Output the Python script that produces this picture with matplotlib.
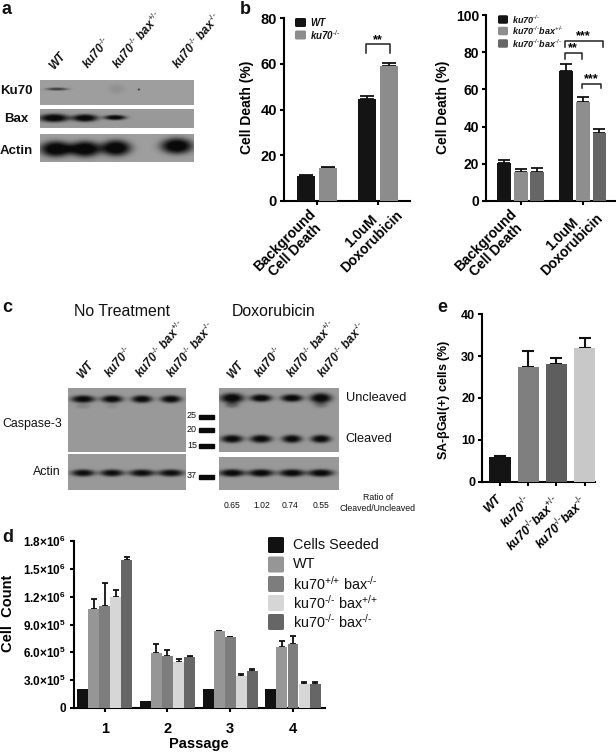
import numpy as np
import matplotlib
matplotlib.use("Agg")
import matplotlib.pyplot as plt
from matplotlib.patches import Rectangle, FancyBboxPatch
from matplotlib.transforms import ScaledTranslation

plt.rcParams.update({
    "font.family": ["Liberation Sans", "DejaVu Sans"],
    "mathtext.fontset": "custom",
    "mathtext.rm": "Liberation Sans",
    "mathtext.it": "Liberation Sans:italic",
    "mathtext.bf": "Liberation Sans:bold",
    "mathtext.default": "regular",
    "axes.linewidth": 1.5,
})

W, H = 616, 755
KO = r"$^{\text{-/-}}$"
HET = r"$^{\text{+/-}}$"
WTS = r"$^{\text{+/+}}$"

# ---- data ----
b1_groups = ["Background\nCell Death", "1.0uM\nDoxorubicin"]
b1_names = ["WT", "ku70" + KO]
b1_vals = [[11.0, 44.5], [14.5, 59.0]]
b1_errs = [[0.2, 1.3], [0.3, 1.5]]

b2_names = ["ku70" + KO, "ku70" + KO + "bax" + HET, "ku70" + KO + "bax" + KO]
b2_vals = [[20.5, 70.0], [15.5, 53.0], [15.8, 36.5]]
b2_errs = [[1.3, 3.5], [1.5, 3.0], [2.0, 2.3]]

e_names = ["WT", "ku70" + KO, "ku70" + KO + "bax" + HET, "ku70" + KO + "bax" + KO]
e_vals = [6.0, 27.3, 28.0, 31.8]
e_errs = [0.2, 3.9, 1.6, 2.5]

d_passages = ["1", "2", "3", "4"]
d_names = ["Cells Seeded", "WT", "ku70" + WTS + " bax" + KO,
           "ku70" + KO + " bax" + WTS, "ku70" + KO + " bax" + KO]
d_seeded = [2.1e5, 0.75e5, 2.1e5, 2.1e5]
d_wt = [1.07e6, 5.9e5, 8.25e5, 6.6e5]
d_bax = [1.10e6, 5.6e5, 7.6e5, 6.85e5]
d_ku = [1.20e6, 5.0e5, 3.5e5, 2.6e5]
d_dko = [1.59e6, 5.55e5, 4.0e5, 2.55e5]
d_seeded_err = [0, 0, 0, 0]
d_wt_err = [1.0e5, 1.0e5, 0.1e5, 0.65e5]
d_bax_err = [2.5e5, 0.65e5, 0.1e5, 0.95e5]
d_ku_err = [0.7e5, 0.3e5, 0.2e5, 0.25e5]
d_dko_err = [0.35e5, 0.1e5, 0.15e5, 0.2e5]
d_yticks = [0, 3e5, 6e5, 9e5, 1.2e6, 1.5e6, 1.8e6]
d_ylabels = ["0", r"3.0$\times$10$^{5}$", r"6.0$\times$10$^{5}$", r"9.0$\times$10$^{5}$",
             r"1.2$\times$10$^{6}$", r"1.5$\times$10$^{6}$", r"1.8$\times$10$^{6}$"]

blot_lanes = ["WT", "ku70" + KO, "ku70" + KO + " bax" + HET, "ku70" + KO + " bax" + KO]
ratios = ["0.65", "1.02", "0.74", "0.55"]
markers = ["25", "20", "15", "37"]

fig = plt.figure(figsize=(W / 100, H / 100), dpi=100, facecolor="white")
ov = fig.add_axes([0, 0, 1, 1], zorder=5)
ov.set_xlim(0, W); ov.set_ylim(H, 0); ov.axis("off"); ov.patch.set_alpha(0)


def pax(x0, x1, ytop, y0, tick=3, pad=2):
    a = fig.add_axes([x0 / W, 1 - y0 / H, (x1 - x0) / W, (y0 - ytop) / H])
    a.spines[["top", "right"]].set_visible(False)
    a.patch.set_alpha(0)
    a.tick_params(width=1.5, length=tick, pad=pad)
    return a


def blot(x0, x1, y0, y1, bands, bg=0.62):
    """bands: (x, y, half-width, half-height, strength)"""
    s = 3
    xs = np.linspace(x0, x1, int((x1 - x0) * s))
    ys = np.linspace(y0, y1, int((y1 - y0) * s))
    X, Y = np.meshgrid(xs, ys)
    img = np.full(X.shape, bg)
    for bx, by, hw, hh, st in bands:
        r = ((X - bx) / hw) ** 2 + ((Y - by) / hh) ** 2
        img -= st * np.exp(-r ** 1.5)
    ov.imshow(np.clip(img, 0.04, 1), cmap="gray", vmin=0, vmax=1, aspect="auto",
              extent=(x0, x1, y1, y0), interpolation="bilinear", zorder=1)
    ov.set_xlim(0, W); ov.set_ylim(H, 0)


def lab(x, y, s, size=9, rot=0, weight="normal", style="normal", ha="center", va="center"):
    ov.text(x, y, s, fontsize=size, rotation=rot, fontweight=weight, fontstyle=style,
            ha=ha, va=va, rotation_mode="anchor", color="#111111", zorder=6)


def ebars(a, x, v, e, lw=1.3, cap=3):
    a.errorbar(x, v, yerr=[np.zeros(len(e)), e], fmt="none", ecolor="#111111",
               elinewidth=lw, capsize=cap, capthick=lw, zorder=2)


def bracket(a, x0, x1, ytop, yleg, txt, ytxt):
    a.plot([x0, x0, x1, x1], [yleg, ytop, ytop, yleg], color="#222222", lw=1.1, clip_on=False)
    a.text((x0 + x1) / 2, ytxt, txt, ha="center", va="center", fontsize=9, fontweight="bold")


def mleg(names, cols, x, ys, bw, bh, tx, size, style="normal", weight="normal"):
    for n, c, y in zip(names, cols, ys):
        ov.add_patch(FancyBboxPatch((x + 1.5, y - bh / 2 + 1.5), bw - 3, bh - 3,
                                    boxstyle="round,pad=1.5", fc=c, ec="none", zorder=5))
        ov.text(tx, y, n, fontsize=size, fontstyle=style, fontweight=weight,
                ha="left", va="center", color="#111111", zorder=6)


def shift_xlabels(a, shifts):
    for t, (dx, dy) in zip(a.get_xticklabels(), shifts):
        off = ScaledTranslation(dx / 100, -dy / 100, fig.dpi_scale_trans)
        t.set_transform(t.get_transform() + off)


# ---- panel letters ----
for s, x, y in [("a", 2, 9), ("b", 240, 9), ("c", 2, 307), ("e", 437, 307), ("d", 2, 537)]:
    lab(x, y, s, size=13, weight="bold", ha="left")

# ---- panel a ----
blot(40, 194, 80, 105, [(57, 89, 11, 1.5, 0.38), (117, 89, 8, 5, 0.05), (139, 89.5, 1, 1, 0.5)], bg=0.62)
blot(40, 194, 109, 128, [(54, 118, 15, 4.2, 0.62), (85, 118, 13, 3.8, 0.62), (115, 117.5, 11, 2.6, 0.6)], bg=0.60)
blot(40, 194, 134, 162, [(56, 149, 16, 8, 0.66), (85, 149, 16, 8, 0.66), (116, 148, 15, 8, 0.66), (177, 146, 16, 8, 0.66)], bg=0.62)
for s, x in zip(blot_lanes, [56, 91, 121, 181]):
    lab(x, 72, s, size=8.4, rot=50, weight="bold", style="italic", ha="left", va="bottom")
lab(33, 91, "Ku70", size=9.5, weight="bold", ha="right")
lab(28, 119, "Bax", size=9.5, weight="bold", ha="right")
lab(33, 151, "Actin", size=9.5, weight="bold", ha="right")

# ---- panel b left ----
a = pax(284, 410, 18, 201)
a.set_xlim(-0.54, 1.52); a.set_ylim(0, 80)
colors = ["#141414", "#8c8c8c"]
gx = np.arange(2)
for v, e, c, o in zip(b1_vals, b1_errs, colors, [-0.18, 0.18]):
    a.bar(gx + o, v, width=0.29, color=c, zorder=3)
    ebars(a, gx + o, v, e, cap=5)
a.set_yticks([0, 20, 40, 60, 80])
a.set_yticklabels(["0", "20", "40", "60", "80"], fontweight="bold", fontsize=10.5)
a.set_xticks(gx)
a.set_xticklabels(b1_groups, rotation=45, ha="right", va="top", rotation_mode="anchor",
                  fontweight="bold", fontsize=10, multialignment="center", linespacing=1.0)
shift_xlabels(a, [(-8, -1), (7, -10)])
a.set_ylabel("Cell Death (%)", fontweight="bold", fontsize=10)
a.yaxis.set_label_coords(254, 107, transform=ov.transData)
bracket(a, 1 - 0.2, 1 + 0.2, 68.6, 64.7, "**", 70.5)
mleg(b1_names, colors, 295, [22.5, 35], 11, 9, 310, 7, "italic", "bold")

# ---- panel b right ----
a = pax(486, 615, 15, 201)
a.set_xlim(-0.56, 1.52); a.set_ylim(0, 100)
colors = ["#141414", "#8e8e8e", "#666666"]
for v, e, c, o in zip(b2_vals, b2_errs, colors, [-0.27, 0.0, 0.27]):
    a.bar(gx + o, v, width=0.225, color=c, zorder=3)
    ebars(a, gx + o, v, e, cap=4)
a.set_yticks([0, 20, 40, 60, 80, 100])
a.set_yticklabels(["0", "20", "40", "60", "80", "100"], fontweight="bold", fontsize=10)
a.set_xticks(gx)
a.set_xticklabels(b1_groups, rotation=45, ha="right", va="top", rotation_mode="anchor",
                  fontweight="bold", fontsize=10, multialignment="center", linespacing=1.0)
shift_xlabels(a, [(-11, -1), (3, -7)])
a.set_ylabel("Cell Death (%)", fontweight="bold", fontsize=10)
a.yaxis.set_label_coords(450, 107, transform=ov.transData)
bracket(a, 1 - 0.29, 1 + 0.32, 86, 83, "***", 88.5)
bracket(a, 1 - 0.29, 1 - 0.02, 79.5, 76.5, "**", 82)
bracket(a, 1 - 0.02, 1 + 0.29, 63, 60.5, "***", 65.5)
mleg(b2_names, colors, 498, [19.5, 31, 43.5], 10, 8.5, 512, 6.5, "italic", "bold")

# ---- panel c ----
lc = [83, 112, 142, 171]
rc = [232, 261, 292, 321]
blot(68, 186, 388, 452,
     [(x, 399, w, 3.8, 0.58) for x, w in zip(lc, [12, 11, 10.5, 10.5])]
     + [(lc[0], 406, 7, 2.5, 0.08), (lc[1], 406, 6, 2.5, 0.05)], bg=0.60)
blot(68, 186, 454, 490, [(x, 473, w, 3.6, 0.55) for x, w in zip(lc, [12, 12, 13, 13])], bg=0.60)
blot(219, 339, 388, 452,
     [(x, 398, w, h, 0.6) for x, w, h in zip(rc, [12, 11, 11, 11], [5, 3.8, 3.8, 5])]
     + [(x, 439, w, 4, 0.58) for x, w in zip(rc, [11, 11, 10, 10])]
     + [(rc[0], 405, 7, 3, 0.2), (rc[3], 405, 7, 3, 0.15)], bg=0.60)
blot(219, 339, 457, 490, [(x, 473, 13, 3.8, 0.58) for x in rc], bg=0.60)
lab(122, 311, "No Treatment", size=11.4)
lab(274, 311, "Doxorubicin", size=11.4)
for x, x2, s in zip([84, 113, 144, 175], [234, 263, 295, 326], blot_lanes):
    lab(x, 381, s, size=8.4, rot=50, weight="bold", style="italic", ha="left", va="bottom")
    lab(x2, 381, s, size=8.4, rot=50, weight="bold", style="italic", ha="left", va="bottom")
lab(62, 424, "Caspase-3", size=8.9, ha="right")
lab(61, 472, "Actin", size=8.9, ha="right")
lab(346, 398, "Uncleaved", size=9.2, ha="left")
lab(345, 439, "Cleaved", size=9.2, ha="left")
for m, y in zip(markers, [417, 430, 446, 477]):
    ov.add_patch(Rectangle((199, y - 2.2), 15, 4.4, color="#0a0a0a", zorder=5))
    lab(197, y - 1, m, size=6.5, ha="right")
for x, r in zip([232, 262, 290, 321], ratios):
    lab(x, 505, r, size=6.2)
lab(378, 503, "Ratio of\nCleaved/Uncleaved", size=6.3)

# ---- panel e ----
a = pax(482, 595, 314, 482)
a.set_xlim(-0.64, 3.37); a.set_ylim(0, 40)
x = np.arange(4)
a.bar(x, e_vals, width=0.75, color=["#141414", "#7f7f7f", "#5e5e5e", "#c8c8c8"], zorder=3)
ebars(a, x, e_vals, e_errs, lw=1.5, cap=4.5)
a.set_yticks([0, 10, 20, 30, 40])
a.set_yticklabels(["0", "10", "20", "30", "40"], fontweight="bold", fontsize=9)
a.set_ylabel(r"SA-$\beta$Gal(+) cells (%)", fontweight="bold", fontsize=9)
a.yaxis.set_label_coords(452, 400, transform=ov.transData)
a.set_xticks(x)
a.set_xticklabels(e_names, rotation=45, ha="right", va="top", rotation_mode="anchor",
                  fontweight="bold", fontstyle="italic", fontsize=8.8)
shift_xlabels(a, [(-5, 4)] * 4)

# ---- panel d ----
a = pax(74, 325, 541, 708, tick=3, pad=3)
a.set_xlim(-0.49, 3.51); a.set_ylim(0, 1.8e6)
x = np.arange(4)
d_vals = [d_seeded, d_wt, d_bax, d_ku, d_dko]
d_errs = [d_seeded_err, d_wt_err, d_bax_err, d_ku_err, d_dko_err]
d_cols = ["#111111", "#969696", "#7d7d7d", "#d6d6d6", "#666666"]
for i, (v, e, c) in enumerate(zip(d_vals, d_errs, d_cols)):
    o = (i - 2) * 0.177
    a.bar(x + o, v, width=0.175, color=c, zorder=3)
    if i:
        ebars(a, x + o, v, e, lw=1.3, cap=2.5)
a.set_yticks(d_yticks); a.set_yticklabels(d_ylabels, fontweight="bold", fontsize=8.5)
a.set_xticks(x); a.set_xticklabels(d_passages, fontweight="bold", fontsize=10.5)
a.tick_params(axis="x", pad=7)
a.set_xlabel("Passage", fontweight="bold", fontsize=10.5)
a.xaxis.set_label_coords(199, 737, transform=ov.transData)
a.set_ylabel("Cell  Count", fontweight="bold", fontsize=10.5)
a.yaxis.set_label_coords(15, 613, transform=ov.transData)
mleg(d_names, d_cols, 268, [545, 564.5, 584, 603, 622], 16, 16, 293, 10.4)

fig.savefig("out.png", dpi=100, facecolor="white")
